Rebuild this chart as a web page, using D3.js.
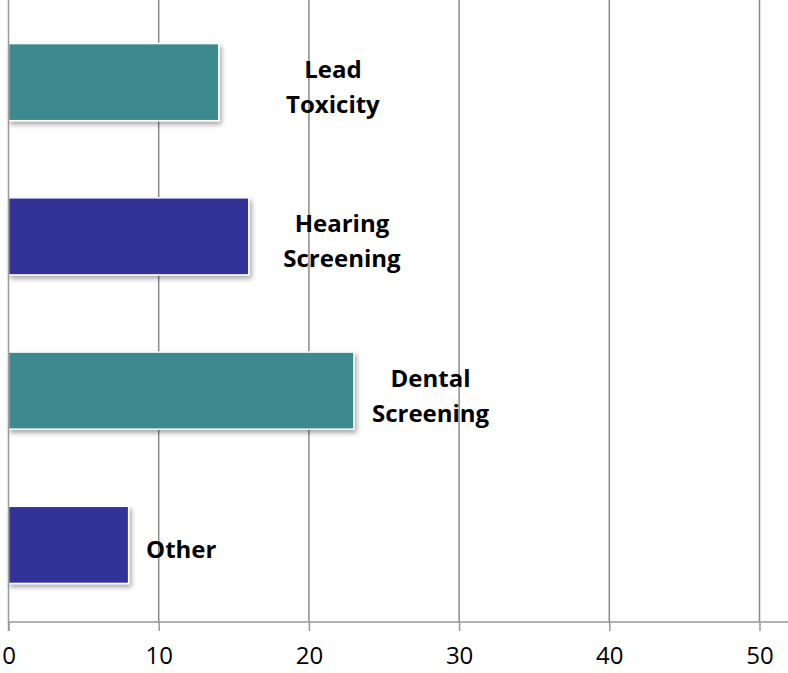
<!DOCTYPE html>
<html><head><meta charset="utf-8">
<script src="https://cdn.jsdelivr.net/npm/d3@7"></script>
<style>body{margin:0;background:#fff}svg{display:block}</style>
</head><body>
<script>
const categories = ["Lead Toxicity", "Hearing Screening", "Dental Screening", "Other"];
const labelLines = [["Lead", "Toxicity"], ["Hearing", "Screening"], ["Dental", "Screening"], ["Other"]];
const values = [14, 16, 23, 8];
const barColors = ["#3d8a8e", "#333399", "#3d8a8e", "#333399"];
const labelAnchors = [21.6, 22.2, 28.1, 11.5]; // label centre in value units
const tickValues = [0, 10, 20, 30, 40, 50];

const W = 788, H = 673;
const svg = d3.select("body").append("svg").attr("width", W).attr("height", H);
const defs = svg.append("defs");
const f = defs.append("filter").attr("id", "sh").attr("x", "-10%").attr("y", "-10%").attr("width", "130%").attr("height", "140%");
f.append("feDropShadow").attr("dx", 2).attr("dy", 3).attr("stdDeviation", 2.5).attr("flood-color", "#000").attr("flood-opacity", 0.35);

const x = d3.scaleLinear().domain([0, 50]).range([8.5, 759.5]);
const y = d3.scaleBand().domain(categories).range([5, 622]).paddingInner(0.5).paddingOuter(0.25);
const axisY = 622;

// gridlines
svg.append("g").selectAll("line").data(tickValues.slice(1)).join("line")
  .attr("x1", d => x(d)).attr("x2", d => x(d)).attr("y1", 0).attr("y2", axisY)
  .attr("stroke", "#8a8a8a").attr("stroke-width", 1.5);

// bars
svg.append("g").selectAll("rect").data(categories).join("rect")
  .attr("x", x(0)).attr("y", d => y(d))
  .attr("width", (d, i) => x(values[i]) - x(0)).attr("height", y.bandwidth())
  .attr("fill", (d, i) => barColors[i]).attr("stroke", "#fff").attr("stroke-width", 1.5)
  .attr("filter", "url(#sh)");

// value axis
const axis = d3.axisBottom(x).tickValues(tickValues).tickSize(9).tickFormat(d3.format("d"));
const ag = svg.append("g").attr("transform", `translate(0,${axisY})`).call(axis);
ag.select(".domain").remove();
ag.append("line").attr("x1", x(0)).attr("x2", W).attr("y1", 0).attr("y2", 0).attr("stroke", "#999").attr("stroke-width", 1.5);
ag.selectAll(".tick line").attr("stroke", "#999").attr("stroke-width", 1.5);
ag.selectAll(".tick text").attr("fill", "#000").attr("font-family", "'Open Sans', sans-serif")
  .attr("font-size", 24).attr("y", 42).attr("dy", 0);

// vertical category axis line
svg.append("line").attr("x1", x(0)).attr("x2", x(0)).attr("y1", 0).attr("y2", axisY + 9)
  .attr("stroke", "#999").attr("stroke-width", 1.5);

// labels
const lg = svg.append("g").attr("font-family", "'Open Sans', sans-serif").attr("font-weight", "bold")
  .attr("font-size", 24).attr("fill", "#000").attr("text-anchor", "middle");
categories.forEach((c, i) => {
  const lines = labelLines[i];
  const cy = y(c) + y.bandwidth() / 2 + 5;
  const lh = 35;
  lines.forEach((t, j) => {
    lg.append("text").attr("x", x(labelAnchors[i]))
      .attr("y", cy + (j - (lines.length - 1) / 2) * lh).attr("dy", "0.35em").text(t);
  });
});
</script>
</body></html>
